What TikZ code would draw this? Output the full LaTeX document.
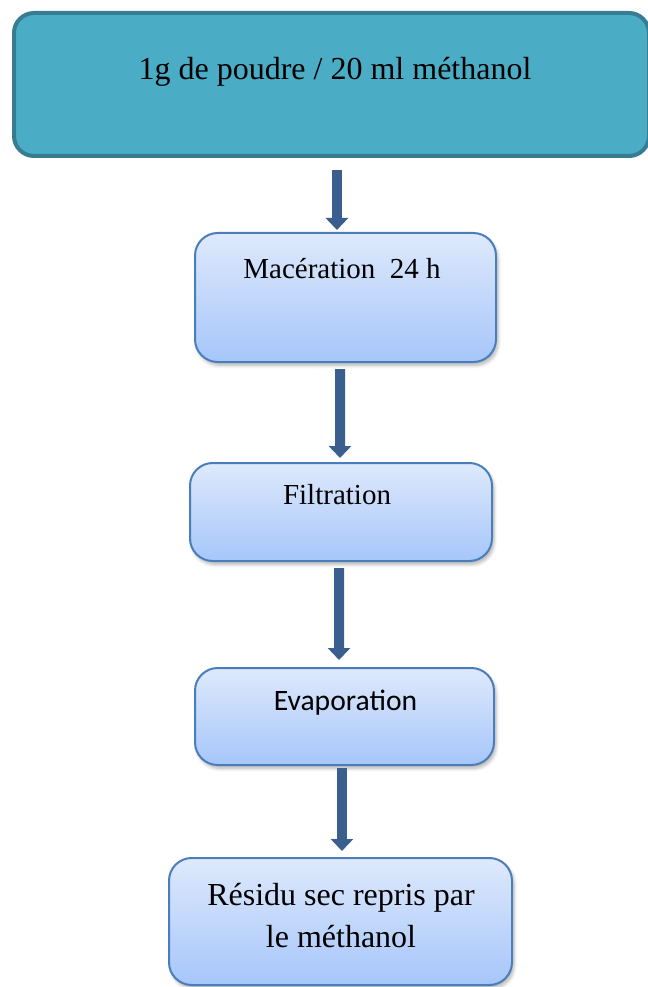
\documentclass[tikz,border=0pt]{standalone}
\usepackage{fontspec}
\setmainfont{Liberation Serif}
\newfontfamily\calib{Carlito}
\usetikzlibrary{arrows.meta,shadows.blur}
\definecolor{topfill}{RGB}{75,172,198}
\definecolor{topdraw}{RGB}{54,125,145}
\definecolor{lbtop}{RGB}{222,233,252}
\definecolor{lbbot}{RGB}{166,198,250}
\definecolor{lbdraw}{RGB}{74,126,187}
\definecolor{arrcol}{RGB}{58,95,142}
\tikzset{
  topbox/.style={draw=topdraw, line width=3pt, fill=topfill, rounded corners=15pt, rectangle, inner sep=0pt},
  lbox/.style={draw=lbdraw, line width=1.5pt, top color=lbtop, bottom color=lbbot, rounded corners=17pt, rectangle, inner sep=0pt,
     blur shadow={shadow xshift=1.5pt, shadow yshift=-2.5pt, shadow opacity=30, shadow blur steps=6, shadow blur radius=2.5pt}},
  lbl/.style={inner sep=0pt, font=\fontsize{21.75pt}{31.5pt}\selectfont, align=center},
  flow/.style={draw=arrcol, line width=7.5pt, -{Triangle[width=16.5pt,length=9pt]}, arrcol}
}
\begin{document}
\begin{tikzpicture}[x=0.75pt,y=-0.75pt]
\useasboundingbox (0,0) rectangle (648,987);
\node[topbox, minimum width=635*0.75pt, minimum height=143*0.75pt] (top) at (331.5,84.5) {};
\node[lbl, font=\fontsize{24pt}{28pt}\selectfont] (toptxt) at (335,72) {1g de poudre / 20 ml méthanol};

\node[lbox, minimum width=301*0.75pt, minimum height=129*0.75pt] (mac) at (345.5,297.5) {};
\node[lbl] (mactxt) at (342,269) {Macération\ \ 24 h};

\node[lbox, minimum width=302*0.75pt, minimum height=98*0.75pt] (fil) at (341,512) {};
\node[lbl] (filtxt) at (337,495) {Filtration};

\node[lbox, minimum width=299*0.75pt, minimum height=97*0.75pt] (eva) at (344.5,716.5) {};
\node[lbl, font=\calib\fontsize{22.2pt}{26pt}\selectfont] (evatxt) at (345.5,703) {Evaporation};

\node[lbox, minimum width=343*0.75pt, minimum height=127*0.75pt] (res) at (340.5,921.5) {};
\node[lbl, font=\fontsize{24pt}{31.5pt}\selectfont] (restxt) at (341,916) {Résidu sec repris par\\le méthanol};

\draw[flow] ([xshift=4.1pt,yshift=-9pt]top.south) -- ([xshift=-6.4pt,yshift=1.5pt]mac.north);
\draw[flow] ([xshift=-4.1pt,yshift=-4.5pt]mac.south) -- ([xshift=-0.75pt,yshift=3pt]fil.north);
\draw[flow] ([xshift=-1.5pt,yshift=-4.5pt]fil.south) -- ([xshift=-4.1pt,yshift=5.25pt]eva.north);
\draw[flow] ([xshift=-1.9pt,yshift=-1.5pt]eva.south) -- ([xshift=1.1pt,yshift=4.5pt]res.north);
\end{tikzpicture}
\end{document}
